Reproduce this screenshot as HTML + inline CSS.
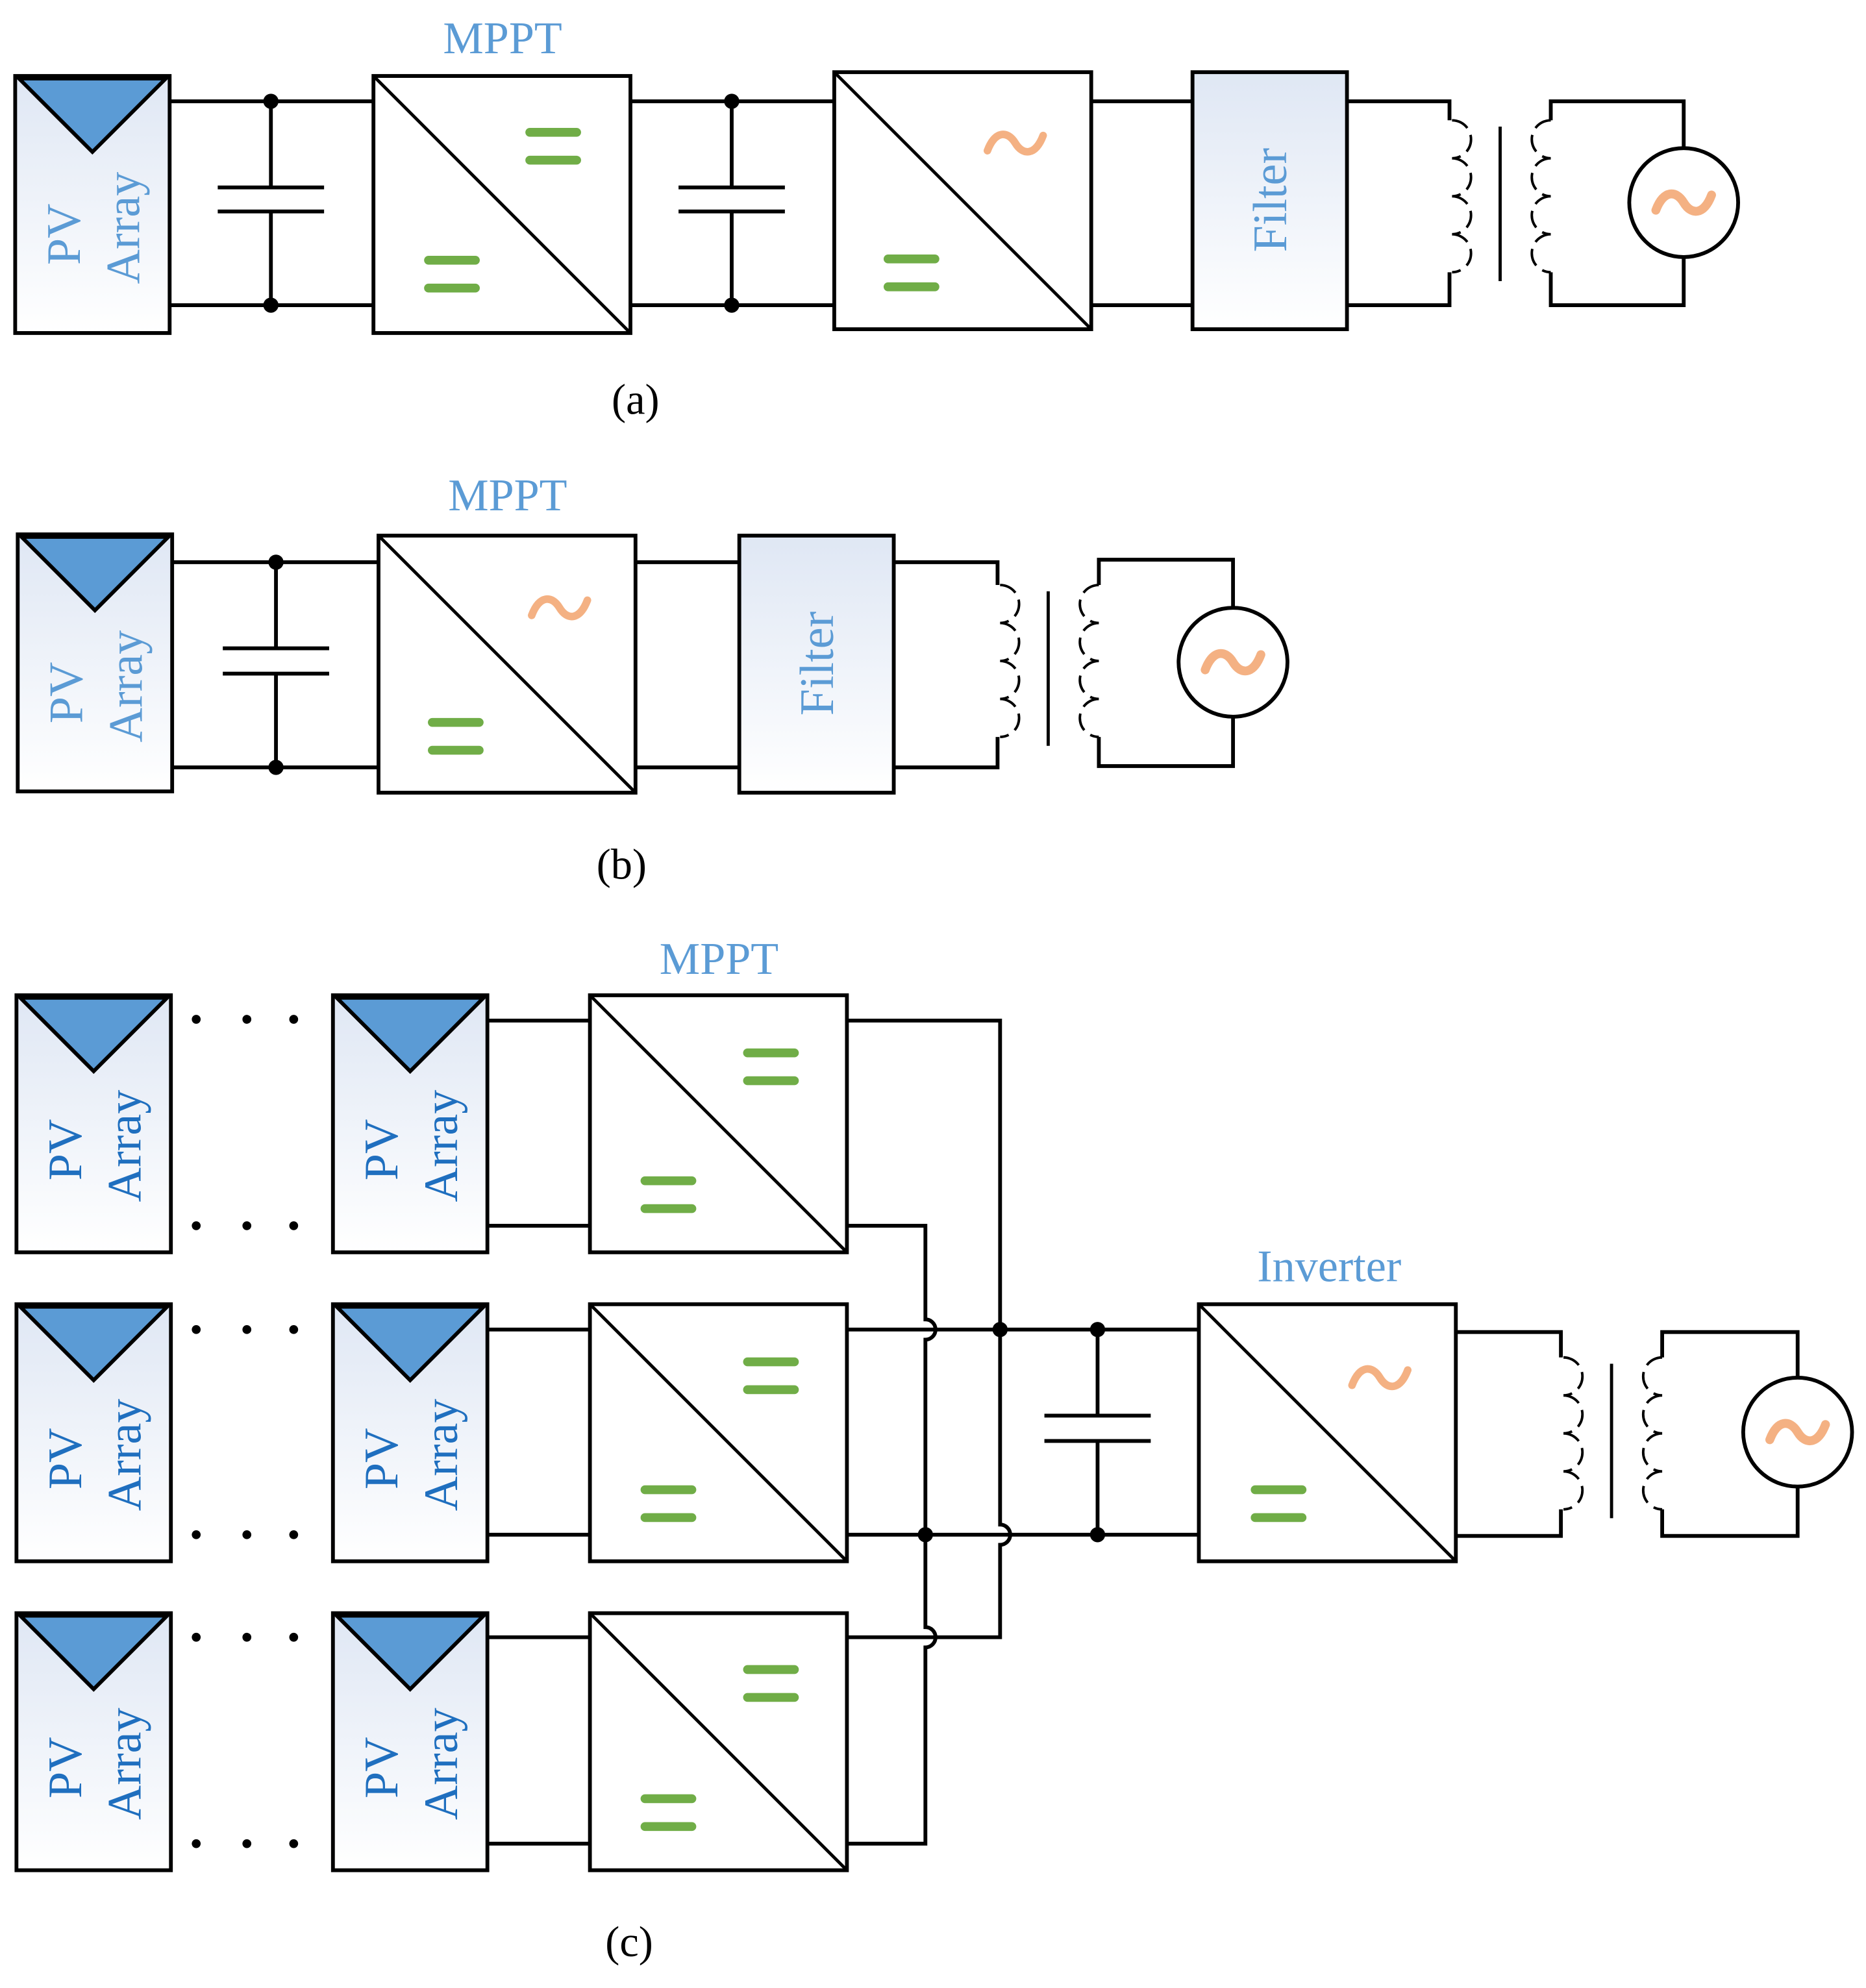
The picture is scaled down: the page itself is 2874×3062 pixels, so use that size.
<!DOCTYPE html>
<html><head><meta charset="utf-8">
<style>
html,body{margin:0;padding:0;background:#fff;}
svg{display:block;}
text{font-family:"Liberation Serif",serif;}
</style></head><body>
<svg width="2874" height="3062" viewBox="0 0 1474 1570" preserveAspectRatio="none" xmlns="http://www.w3.org/2000/svg">
<defs>
<linearGradient id="g" x1="0" y1="0" x2="0" y2="1">
<stop offset="0" stop-color="#dfe7f4"/><stop offset="1" stop-color="#ffffff"/>
</linearGradient>
<g id="pv">
<rect x="0" y="0" width="122" height="203" fill="url(#g)" stroke="#000" stroke-width="3"/>
<polygon points="3,2 119,2 61,60" fill="#5b9bd5" stroke="#000" stroke-width="3" stroke-linejoin="miter"/>
</g>
<g id="cv">
<rect x="0" y="0" width="203" height="203" fill="#fff" stroke="#000" stroke-width="3"/>
<line x1="0" y1="0" x2="203" y2="203" stroke="#000" stroke-width="2.5"/>
</g>
<g id="eq">
<rect x="-22" y="-14" width="44" height="7" rx="3.5" fill="#70ad47"/>
<rect x="-22" y="8" width="44" height="7" rx="3.5" fill="#70ad47"/>
</g>
<g id="ac">
<path d="M-22,6 C-16,-10 -6,-10 0,0 S16,10 22,-6" fill="none" stroke="#f4b183" stroke-width="6" stroke-linecap="round"/>
</g>
<g id="filt">
<rect x="0" y="0" width="122" height="203" fill="url(#g)" stroke="#000" stroke-width="3"/>
</g>
<g id="xf" fill="none" stroke="#000" stroke-width="2">
<path d="M0,0 A15,15 0 0 1 0,30 M0,30 A15,15 0 0 1 0,60 M0,60 A15,15 0 0 1 0,90 M0,90 A15,15 0 0 1 0,120" stroke-dasharray="14,6" transform="translate(2,0)"/>
<line x1="40" y1="5" x2="40" y2="127" stroke-width="2.5"/>
<path d="M0,0 A15,15 0 0 0 0,30 M0,30 A15,15 0 0 0 0,60 M0,60 A15,15 0 0 0 0,90 M0,90 A15,15 0 0 0 0,120" stroke-dasharray="14,6" transform="translate(80,0)"/>
</g>
<g id="src">
<circle cx="0" cy="0" r="43" fill="#fff" stroke="#000" stroke-width="3"/>
<path d="M-22,6 C-16,-10 -6,-10 0,0 S16,10 22,-6" fill="none" stroke="#f4b183" stroke-width="7" stroke-linecap="round"/>
</g>
</defs>

<g stroke="#000" stroke-width="3" fill="none">
<path d="M134,80 H295 M134,241 H295 M497,80 H659 M497,241 H659 M862,80 H942 M862,241 H942 M1064,80 H1145 V95 M1064,241 H1145 V215 M1225,95 V80 H1330 V117 M1225,215 V241 H1330 V203"/>
<path d="M214,80 V148 M214,167 V241 M172,148 H256 M172,167 H256 M578,80 V148 M578,167 V241 M536,148 H620 M536,167 H620"/>
<path d="M136,444 H299 M136,606 H299 M503,444 H584 M503,606 H584 M706,444 H788 V462 M706,606 H788 V582 M868,462 V442 H974 V480 M868,582 V605 H974 V566"/>
<path d="M218,444 V512 M218,532 V606 M176,512 H260 M176,532 H260"/>
<path d="M385,806 H466 M385,968 H466 M385,1050 H466 M385,1212 H466 M385,1293 H466 M385,1456 H466"/>
<path d="M669,806 H790 V1204 A8,8 0 0 1 790,1220 V1293 H669"/>
<path d="M669,968 H731 V1042 A8,8 0 0 1 731,1058 V1285 A8,8 0 0 1 731,1301 V1456 H669"/>
<path d="M669,1050 H947"/>
<path d="M669,1212 H947"/>
<path d="M867,1050 V1118 M867,1138 V1212 M825,1118 H909 M825,1138 H909"/>
<path d="M1150,1052 H1233 V1072 M1150,1213 H1233 V1192 M1313,1072 V1052 H1420 V1088 M1313,1192 V1213 H1420 V1174"/>
</g>
<g fill="#000">
<circle cx="214" cy="80" r="6"/><circle cx="214" cy="241" r="6"/>
<circle cx="578" cy="80" r="6"/><circle cx="578" cy="241" r="6"/>
<circle cx="218" cy="444" r="6"/><circle cx="218" cy="606" r="6"/>
<circle cx="790" cy="1050" r="6"/><circle cx="731" cy="1212" r="6"/>
<circle cx="867" cy="1050" r="6"/><circle cx="867" cy="1212" r="6"/>
</g>

<use href="#pv" x="12" y="60"/>
<use href="#cv" x="295" y="60"/>
<use href="#eq" x="437" y="115"/><use href="#eq" x="357" y="216"/>
<use href="#cv" x="659" y="57"/>
<use href="#ac" x="802" y="113"/><use href="#eq" x="720" y="215"/>
<use href="#filt" x="942" y="57"/>
<use href="#xf" x="1145" y="95"/>
<use href="#src" x="1330" y="160"/>
<use href="#pv" x="14" y="422"/>
<use href="#cv" x="299" y="423"/>
<use href="#ac" x="442" y="480"/><use href="#eq" x="360" y="581"/>
<use href="#filt" x="584" y="423"/>
<use href="#xf" x="788" y="462"/>
<use href="#src" x="974" y="523"/>
<use href="#pv" x="13" y="786"/><use href="#pv" x="263" y="786"/>
<use href="#pv" x="13" y="1030"/><use href="#pv" x="263" y="1030"/>
<use href="#pv" x="13" y="1274"/><use href="#pv" x="263" y="1274"/>
<use href="#cv" x="466" y="786"/><use href="#eq" x="609" y="842"/><use href="#eq" x="528" y="943"/>
<use href="#cv" x="466" y="1030"/><use href="#eq" x="609" y="1086"/><use href="#eq" x="528" y="1187"/>
<use href="#cv" x="466" y="1274"/><use href="#eq" x="609" y="1329"/><use href="#eq" x="528" y="1431"/>
<use href="#cv" x="947" y="1030"/><use href="#ac" x="1090" y="1088"/><use href="#eq" x="1010" y="1187"/>
<use href="#xf" x="1233" y="1072"/>
<use href="#src" x="1420" y="1131"/>
<g fill="#000">
<circle cx="155" cy="805" r="3.5"/><circle cx="195" cy="805" r="3.5"/><circle cx="232" cy="805" r="3.5"/>
<circle cx="155" cy="968" r="3.5"/><circle cx="195" cy="968" r="3.5"/><circle cx="232" cy="968" r="3.5"/>
<circle cx="155" cy="1050" r="3.5"/><circle cx="195" cy="1050" r="3.5"/><circle cx="232" cy="1050" r="3.5"/>
<circle cx="155" cy="1212" r="3.5"/><circle cx="195" cy="1212" r="3.5"/><circle cx="232" cy="1212" r="3.5"/>
<circle cx="155" cy="1293" r="3.5"/><circle cx="195" cy="1293" r="3.5"/><circle cx="232" cy="1293" r="3.5"/>
<circle cx="155" cy="1456" r="3.5"/><circle cx="195" cy="1456" r="3.5"/><circle cx="232" cy="1456" r="3.5"/>
</g>

<g fill="#5b9bd5" font-size="36" text-anchor="middle">
<text x="397" y="42">MPPT</text>
<text x="401" y="403">MPPT</text>
<text x="568" y="769">MPPT</text>
<text x="1050" y="1012">Inverter</text>
</g>
<g fill="#5b9bd5" font-size="38" text-anchor="middle">
<text transform="translate(63,185) rotate(-90)">PV</text>
<text transform="translate(110,180) rotate(-90)">Array</text>
<text transform="translate(65,547) rotate(-90)">PV</text>
<text transform="translate(112,542) rotate(-90)">Array</text>
<text transform="translate(1016,158) rotate(-90)">Filter</text>
<text transform="translate(658,524) rotate(-90)">Filter</text>
</g>
<g fill="#1f6fbf" font-size="38" text-anchor="middle">
<text transform="translate(64,908) rotate(-90)">PV</text>
<text transform="translate(111,905) rotate(-90)">Array</text>
<text transform="translate(314,908) rotate(-90)">PV</text>
<text transform="translate(361,905) rotate(-90)">Array</text>
<text transform="translate(64,1152) rotate(-90)">PV</text>
<text transform="translate(111,1149) rotate(-90)">Array</text>
<text transform="translate(314,1152) rotate(-90)">PV</text>
<text transform="translate(361,1149) rotate(-90)">Array</text>
<text transform="translate(64,1396) rotate(-90)">PV</text>
<text transform="translate(111,1393) rotate(-90)">Array</text>
<text transform="translate(314,1396) rotate(-90)">PV</text>
<text transform="translate(361,1393) rotate(-90)">Array</text>
</g>
<g fill="#000" font-size="34" text-anchor="middle">
<text x="502" y="327">(a)</text>
<text x="491" y="694">(b)</text>
<text x="497" y="1545">(c)</text>
</g>
</svg>
</body></html>
